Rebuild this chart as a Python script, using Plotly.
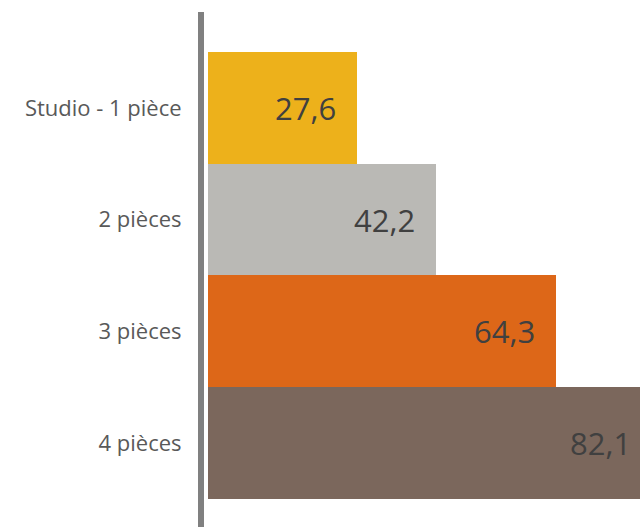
import plotly.graph_objects as go

# Surface moyenne par type de logement (m²)
categories = ["Studio - 1 pièce", "2 pièces", "3 pièces", "4 pièces"]
values = [27.6, 42.2, 64.3, 82.1]
bar_colors = ["#EDB11B", "#BAB9B5", "#DD6718", "#7B675C"]
value_labels = [f"{v:.1f}".replace(".", ",") for v in values]

fig = go.Figure(
    go.Bar(
        x=values,
        y=categories,
        orientation="h",
        marker=dict(color=bar_colors, line=dict(width=0)),
        width=1.0,
        hoverinfo="skip",
    )
)

# Value labels at the end of each bar. The label sits at the (invisible)
# arrow tail so that it stays drawn even when the bar runs past the edge.
for cat, v, lab in zip(categories, values, value_labels):
    fig.add_annotation(
        x=0, y=cat, xref="x", yref="y",
        ax=v, ay=cat, axref="x", ayref="y",
        showarrow=True, arrowcolor="rgba(0,0,0,0)", arrowwidth=0.1,
        text=lab,
        xanchor="right", yanchor="middle", xshift=-19,
        font=dict(family="Open Sans", size=31, color="#404040"),
    )

fig.update_layout(
    width=640, height=527,
    margin=dict(l=204, r=0, t=12, b=0),
    paper_bgcolor="white", plot_bgcolor="white",
    bargap=0,
    showlegend=False,
    xaxis=dict(range=[-0.74, 79.93], visible=False, showgrid=False, zeroline=False),
    yaxis=dict(
        type="category",
        range=[3.751, -0.858],
        showline=True, linecolor="#808080", linewidth=6,
        showgrid=False, zeroline=False, ticks="",
        ticklabelstandoff=12,
        tickfont=dict(family="Open Sans", size=22, color="#595959"),
    ),
)

fig.write_html("out.html")
